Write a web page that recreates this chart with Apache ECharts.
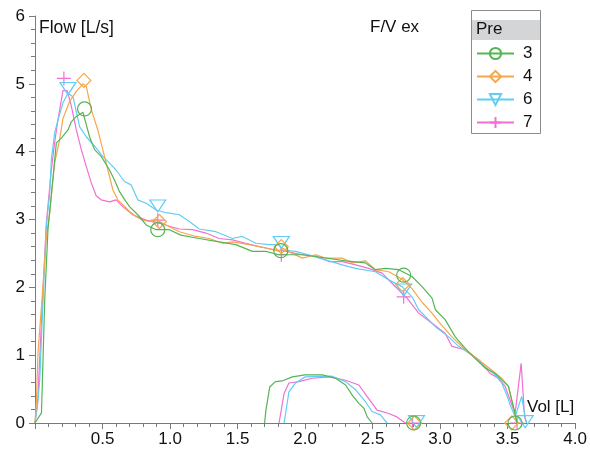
<!DOCTYPE html>
<html>
<head>
<meta charset="utf-8">
<script src="https://cdn.jsdelivr.net/npm/echarts@6/dist/echarts.min.js"></script>
<style>
  html, body { margin: 0; padding: 0; background: #fff; }
  #chart { width: 590px; height: 458px; }
</style>
</head>
<body>
<div id="chart"></div>
<script>
// legend names
const names = ['3', '4', '6', '7'];
const xTicks = [0, 0.5, 1.0, 1.5, 2.0, 2.5, 3.0, 3.5, 4.0];

// expiratory curves [vol, flow]
const exp3 = [[0,0],[0.048,0.15],[0.072,1.81],[0.096,2.85],[0.158,4.13],[0.195,4.2],[0.244,4.32],[0.269,4.44],[0.306,4.52],[0.355,4.58],[0.367,4.58],[0.404,4.22],[0.441,4.03],[0.49,3.93],[0.552,3.73],[0.589,3.58],[0.626,3.41],[0.675,3.26],[0.70,3.19],[0.761,3.07],[0.823,2.92],[0.897,2.85],[0.995,2.85],[1.08,2.77],[1.216,2.72],[1.364,2.67],[1.487,2.63],[1.61,2.53],[1.709,2.53],[1.807,2.48],[1.98,2.48],[2.127,2.44],[2.30,2.39],[2.448,2.36],[2.52,2.26],[2.595,2.28],[2.693,2.26],[2.792,2.16],[2.866,2.01],[2.94,1.84],[2.965,1.67],[3.038,1.52],[3.112,1.27],[3.186,1.10],[3.26,0.95],[3.334,0.81],[3.407,0.73],[3.469,0.61],[3.506,0.54],[3.53,0.34],[3.555,0.14],[3.57,0]];
const exp4 = [[0,0],[0.01,0.3],[0.022,1.03],[0.059,2.01],[0.084,2.75],[0.109,3.1],[0.145,3.83],[0.182,4.17],[0.207,4.49],[0.256,4.74],[0.306,4.89],[0.355,5.0],[0.38,4.96],[0.417,4.62],[0.465,4.32],[0.502,4.03],[0.54,3.73],[0.576,3.44],[0.613,3.29],[0.675,3.17],[0.70,3.12],[0.749,3.04],[0.797,2.99],[0.847,2.97],[0.897,3.0],[0.97,2.92],[1.069,2.82],[1.192,2.75],[1.29,2.72],[1.389,2.65],[1.462,2.67],[1.585,2.63],[1.709,2.58],[1.807,2.53],[1.832,2.58],[1.905,2.50],[1.98,2.43],[2.078,2.48],[2.152,2.43],[2.275,2.43],[2.349,2.36],[2.448,2.39],[2.52,2.26],[2.62,2.23],[2.718,2.12],[2.792,1.98],[2.866,1.78],[2.94,1.62],[2.99,1.49],[3.087,1.27],[3.186,1.08],[3.287,0.93],[3.395,0.76],[3.456,0.66],[3.506,0.54],[3.53,0.34],[3.555,0.12],[3.565,0]];
const exp6 = [[0,0],[0.02,0.3],[0.035,0.63],[0.055,1.6],[0.075,2.5],[0.084,2.9],[0.109,3.39],[0.121,3.88],[0.145,4.27],[0.17,4.47],[0.207,4.72],[0.244,4.86],[0.281,4.81],[0.306,4.59],[0.33,4.37],[0.38,4.22],[0.441,4.08],[0.502,3.93],[0.552,3.83],[0.60,3.73],[0.662,3.56],[0.712,3.51],[0.761,3.29],[0.823,3.24],[0.897,3.14],[0.97,3.10],[1.069,3.07],[1.143,2.97],[1.216,2.86],[1.34,2.82],[1.462,2.72],[1.536,2.75],[1.635,2.65],[1.733,2.63],[1.807,2.63],[1.832,2.55],[1.93,2.53],[2.078,2.45],[2.275,2.33],[2.374,2.28],[2.52,2.23],[2.62,2.11],[2.718,2.01],[2.792,1.86],[2.841,1.67],[2.965,1.42],[3.063,1.27],[3.137,1.13],[3.235,1.0],[3.334,0.83],[3.407,0.71],[3.456,0.59],[3.494,0.41],[3.518,0.27],[3.555,0.09],[3.604,0.39],[3.63,0.09],[3.64,0]];
const exp7 = [[0,0],[0.02,0.3],[0.05,1.6],[0.084,2.95],[0.121,3.73],[0.145,4.13],[0.17,4.47],[0.195,4.76],[0.207,4.9],[0.239,4.9],[0.269,4.67],[0.306,4.32],[0.343,4.03],[0.38,3.78],[0.417,3.54],[0.453,3.35],[0.49,3.29],[0.552,3.26],[0.60,3.29],[0.65,3.19],[0.724,3.07],[0.823,2.99],[0.921,2.95],[0.995,2.9],[1.069,2.86],[1.167,2.85],[1.266,2.80],[1.364,2.72],[1.462,2.70],[1.561,2.65],[1.66,2.60],[1.783,2.55],[1.832,2.54],[1.98,2.48],[2.078,2.46],[2.176,2.38],[2.275,2.38],[2.374,2.33],[2.47,2.28],[2.57,2.21],[2.644,2.06],[2.718,1.91],[2.755,1.84],[2.841,1.62],[2.94,1.47],[3.038,1.32],[3.087,1.13],[3.186,1.08],[3.287,0.93],[3.37,0.73],[3.432,0.66],[3.481,0.54],[3.518,0.34],[3.555,0.14],[3.6,0.88],[3.625,0.09],[3.64,0]];

// inspiratory loops drawn above the axis
const loop3 = [[1.70,0],[1.71,0.19],[1.738,0.53],[1.78,0.61],[1.83,0.62],[1.905,0.68],[2.0,0.71],[2.127,0.71],[2.226,0.66],[2.30,0.56],[2.349,0.41],[2.398,0.29],[2.435,0.22],[2.46,0.09],[2.496,0]];
const loop4 = [];
const loop6 = [[1.845,0],[1.88,0.46],[1.93,0.59],[2.0,0.68],[2.2,0.69],[2.30,0.61],[2.374,0.49],[2.448,0.31],[2.496,0.17],[2.558,0.12],[2.607,0]];
const loop7 = [[1.807,0],[1.845,0.44],[1.88,0.59],[1.954,0.61],[2.053,0.66],[2.176,0.68],[2.30,0.63],[2.398,0.56],[2.46,0.39],[2.533,0.19],[2.62,0.14],[2.68,0.09],[2.743,0]];

// marker points
const marks3 = [[0.367,4.63],[0.909,2.85],[1.82,2.54],[2.73,2.18],[2.804,0],[3.555,0]];
const marks4 = [[0.362,5.05],[0.921,2.97],[1.824,2.60],[2.723,2.04],[2.81,0],[3.53,0]];
const marks6 = [[0.244,4.93],[0.909,3.2],[1.824,2.66],[2.73,1.96],[2.825,0.02],[3.63,0.02]];
const marks7 = [[0.214,5.08],[0.909,2.99],[1.824,2.48],[2.73,1.86],[2.795,0],[3.57,0]];

const colors = ['#55b555', '#f5a74c', '#62cdf4', '#f36fd0'];
const symbols = [
  'circle',
  'diamond',
  'path://M0,0L10,0L5,8Z',
  'path://M5,0L5,10M0,5L10,5'
];
const symbolSizes = [14, 14, [16, 12], 14];

const curves = [exp3, exp4, exp6, exp7];
const loops = [loop3, loop4, loop6, loop7];
const marks = [marks3, marks4, marks6, marks7];

function buildData(exp, loop, mk) {
  const d = exp.map(p => ({ value: p, symbol: 'none' }));
  if (loop.length) {
    d.push(null);
    loop.forEach(p => d.push({ value: p, symbol: 'none' }));
  }
  mk.forEach(p => { d.push(null); d.push(p); });
  return d;
}

const series = names.map((n, i) => ({
  name: n,
  type: 'line',
  data: buildData(curves[i], loops[i], marks[i]),
  symbol: symbols[i],
  symbolSize: symbolSizes[i],
  showAllSymbol: true,
  connectNulls: false,
  lineStyle: { color: colors[i], width: 1.2 },
  itemStyle: { color: 'rgba(255,255,255,0)', borderColor: colors[i], borderWidth: 1.2 },
  emphasis: { disabled: true },
  z: 10 - i
}));

const font = 'Liberation Sans, Arial, sans-serif';
const axisGray = '#7a7a7a';

const chart = echarts.init(document.getElementById('chart'));
chart.setOption({
  animation: false,
  textStyle: { fontFamily: font },
  grid: { left: 35, right: 13, top: 16, bottom: 35, containLabel: false },
  xAxis: {
    type: 'value', min: xTicks[0], max: xTicks[xTicks.length - 1], interval: 0.5,
    axisLine: { lineStyle: { color: axisGray, width: 1 } },
    axisTick: { length: 6, lineStyle: { color: axisGray } },
    minorTick: { show: true, splitNumber: 5, length: 4, lineStyle: { color: axisGray, width: 1 } },
    splitLine: { show: false },
    axisLabel: {
      fontSize: 17, color: '#111', margin: 8, fontFamily: font,
      formatter: v => (v === 0 ? '' : v.toFixed(1))
    }
  },
  yAxis: {
    type: 'value', min: 0, max: 6, interval: 1,
    axisLine: { show: true, lineStyle: { color: axisGray, width: 1 } },
    axisTick: { show: true, length: 6, lineStyle: { color: axisGray } },
    minorTick: { show: true, splitNumber: 5, length: 4, lineStyle: { color: axisGray, width: 1 } },
    splitLine: { show: false },
    axisLabel: { fontSize: 17, color: '#111', margin: 10, fontFamily: font }
  },
  legend: {
    data: names,
    orient: 'vertical',
    left: 476, top: 45, padding: 0,
    itemWidth: 37, itemHeight: 14, itemGap: 6,
    textStyle: { fontSize: 17, color: '#111', fontFamily: font, padding: [0, 0, 0, 4] }
  },
  graphic: [
    { type: 'rect', shape: { x: 471.5, y: 10.5, width: 69, height: 123 }, style: { fill: '#fff', stroke: '#8c8c8c', lineWidth: 1 }, z: 0 },
    { type: 'rect', shape: { x: 472, y: 20, width: 68, height: 20 }, style: { fill: '#d4d5d6' }, z: 1 },
    { type: 'text', x: 476, y: 21, style: { text: 'Pre', font: '17px ' + font, fill: '#111' }, z: 2 },
    { type: 'text', x: 39, y: 19, style: { text: 'Flow [L/s]', font: '17.5px ' + font, fill: '#111' } },
    { type: 'text', x: 370, y: 19, style: { text: 'F/V ex', font: '17px ' + font, fill: '#111' } },
    { type: 'text', x: 527, y: 399, style: { text: 'Vol [L]', font: '17px ' + font, fill: '#111' } }
  ],
  series: series
});
</script>
</body>
</html>
